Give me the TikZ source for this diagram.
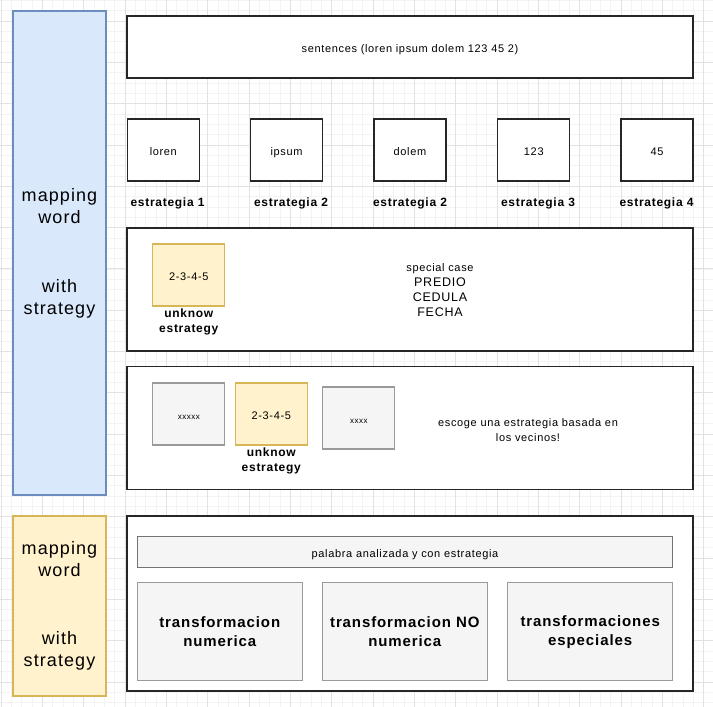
\documentclass[tikz,border=0pt]{standalone}
\usepackage{fontspec}
\setmainfont{Liberation Sans}[LetterSpace=6]
\usetikzlibrary{positioning}
\definecolor{bluefill}{HTML}{DAE8FC}
\definecolor{bluedraw}{HTML}{6C8EBF}
\definecolor{yellowfill}{HTML}{FFF2CC}
\definecolor{yellowdraw}{HTML}{D6B656}
\definecolor{greyfill}{HTML}{F5F5F5}
\definecolor{greydraw}{HTML}{9A9A9A}
\definecolor{gridminor}{HTML}{F3F3F3}
\definecolor{gridmajor}{HTML}{E2E2E2}
\tikzset{%
	every box/.style={
		rectangle,
		draw=black!85,
		line width=1.3pt,
		fill=white,
		inner sep=0pt,
		align=center,
		text height=11pt,
		text depth=0pt,
		font=\fontsize{11}{13}\selectfont
	},
	box word/.style={
		minimum width=72pt,
		minimum height=62pt
	},
	box wide/.style={
		minimum width=566pt
	},
	box yellow/.style={
		fill=yellowfill,
		draw=yellowdraw
	},
	box grey/.style={
		fill=greyfill,
		draw=greydraw
	},
	box side/.style={
		minimum width=93pt,
		text height=,
		text depth=,
		font=\fontsize{18}{22}\selectfont
	},
	box transform/.style={
		minimum width=165pt,
		minimum height=98pt,
		text height=,
		text depth=,
		font=\bfseries\fontsize{15}{19}\selectfont
	},
	strategy label/.style={
		inner sep=0pt,
		align=center,
		font=\bfseries\fontsize{12}{15}\selectfont
	},
}
\begin{document}
\begin{tikzpicture}[x=1pt, y=-1pt]
			
			\useasboundingbox (0,0) rectangle (713,707);
			% grid
			\foreach \k in {0,...,69}
			\draw [gridminor, line width=0.8pt] (1.2+\k*10.33,0) -- ++(0,707)
			(0,0.34+\k*10.33) -- ++(713,0);
			\foreach \k in {0,...,17}
			\draw [gridmajor, line width=0.9pt] (1.2+\k*41.32,0) -- ++(0,707)
			(0,21+\k*41.32) -- ++(713,0);
			
			% side boxes
			\node [every box, box side, fill=bluefill, draw=bluedraw, minimum height=484pt] (side-top) at (59.5,253) {mapping\\word\\[47pt]with\\strategy};
			\node [every box, box side, box yellow, minimum height=180pt] (side-bottom) at (59.5,606) {mapping\\word\\[46pt]with\\strategy};
			
			% sentence and words
			\node [every box, box wide, minimum height=62pt] (sentence) at (410,47) {sentences (loren ipsum dolem 123 45 2)};
			
			\foreach \w/\x [count=\i] in {loren/163.3, ipsum/286.5, dolem/410, 123/533.8, 45/657}
			\node [every box, box word] (word-\i) at (\x,150) {\w};
			
			\foreach \x/\s [count=\i] in {167.5/1, 291/2, 410/2, 538/3, 656.5/4}
			\node [strategy label] (strat-\i) at (\x,203) {estrategia \s};
			
			% special case
			\node [every box, box wide, minimum height=123pt] (special) at (410,289.5) {};
			\node [every box, box word, box yellow] (unknown-1) at (188.8,275) {2-3-4-5};
			\node [strategy label, below=2pt of unknown-1] (unknown-1-label) {unknow\\estrategy};
			\node [align=center, inner sep=0pt, font=\fontsize{12.5}{15}\selectfont] (special-text) at (440,290.5) {{\fontsize{11}{15}\selectfont special case}\\PREDIO\\CEDULA\\FECHA};
			
			% neighbours
			\node [every box, box wide, minimum height=123pt] (neighbours) at (410,428) {};
			\node [every box, box word, box grey, font=\fontsize{8}{10}\selectfont] (left-word) at (188.8,414) {xxxxx};
			\node [every box, box word, box yellow] (unknown-2) at (271.3,414) {2-3-4-5};
			\node [strategy label, below=2pt of unknown-2] (unknown-2-label) {unknow\\estrategy};
			\node [every box, box word, box grey, font=\fontsize{8}{10}\selectfont] (right-word) at (358.8,418) {xxxx};
			\node [align=center, inner sep=0pt, font=\fontsize{11}{15}\selectfont] (neighbours-text) at (528,430.5) {escoge una estrategia basada en\\los vecinos!};
			
			% transformations
			\node [every box, box wide, minimum height=175pt] (transform) at (410,603.5) {};
			\node [every box, box grey, draw=black!55, minimum width=535pt, minimum height=31pt] (analysed) at (405,552) {palabra analizada y con estrategia};
			
			\foreach \l/\x [count=\i] in {{transformacion\\numerica}/219.8, {transformacion NO\\numerica}/404.8, {transformaciones\\especiales}/590.2}
			\node [every box, box grey, box transform] (transform-\i) at (\x,631.7) {\l};
			
		\end{tikzpicture}
\end{document}
